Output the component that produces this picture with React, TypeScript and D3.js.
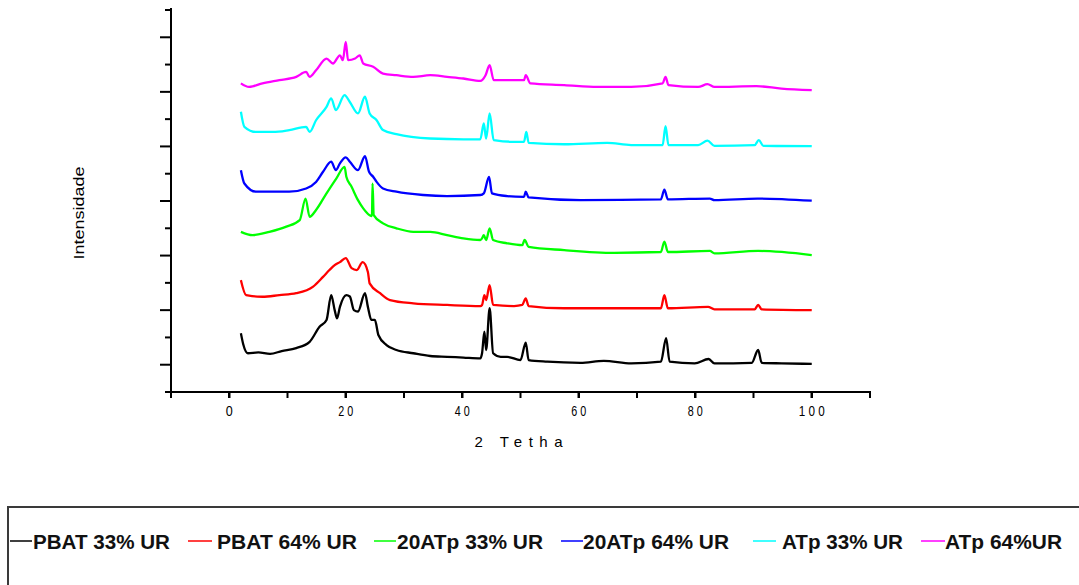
import React from "react";
import * as d3 from "d3";

// XRD patterns: [2θ (deg), intensity (a.u., stacked offsets)]
const pbat33: [number, number][] = [
  [2.0, 2.15], [2.4, 1.75], [3.2, 1.42], [5, 1.45], [7, 1.4], [9, 1.5], [11.5, 1.61], [13.8, 1.84],
  [15.5, 2.39], [16.7, 2.64], [17.5, 3.55], [18.1, 3.0], [18.5, 2.7], [19.0, 3.12], [20.1, 3.55],
  [20.7, 3.5], [21.4, 3.0], [22.1, 2.95], [23.3, 3.62], [23.8, 3.12], [24.4, 2.64], [25.0, 2.64],
  [25.6, 2.09], [27.0, 1.72], [28.7, 1.54], [31.6, 1.42], [34.5, 1.32], [37.4, 1.29], [40.2, 1.26],
  [43.1, 1.23], [43.4, 1.42], [43.8, 2.21], [44.1, 1.54], [44.7, 3.07], [45.3, 1.42], [46.6, 1.29],
  [47.7, 1.29], [50.0, 1.17], [50.9, 1.81], [51.4, 1.17], [54.6, 1.11], [60.3, 1.07], [64.3, 1.14],
  [69.0, 1.05], [74.1, 1.11], [75.0, 1.97], [75.6, 1.11], [79.9, 1.05], [82.3, 1.21], [83.3, 1.05],
  [89.7, 1.07], [90.8, 1.54], [91.4, 1.07], [94.8, 1.05], [100.0, 1.03],
];

const pbat64: [number, number][] = [
  [2.0, 4.1], [2.9, 3.55], [5.7, 3.49], [8.6, 3.55], [11.5, 3.62], [14.4, 3.86], [16.1, 4.22],
  [17.2, 4.47], [18.1, 4.65], [19.0, 4.76], [20.0, 4.91], [21.0, 4.54], [21.9, 4.47], [22.9, 4.76],
  [23.8, 4.4], [24.1, 3.98], [25.9, 3.62], [27.6, 3.37], [31.6, 3.25], [37.4, 3.19], [43.1, 3.15],
  [43.4, 3.19], [43.8, 3.55], [44.1, 3.37], [44.7, 3.92], [45.3, 3.19], [48.9, 3.15], [50.3, 3.19],
  [50.9, 3.43], [51.4, 3.15], [57.5, 3.07], [66.1, 3.07], [74.1, 3.07], [74.7, 3.55], [75.3, 3.07],
  [82.2, 3.12], [83.3, 3.03], [90.2, 3.03], [90.8, 3.19], [91.4, 3.03], [100.0, 3.0],
];

const atp20_33: [number, number][] = [
  [2.0, 5.87], [4.0, 5.75], [6.9, 5.87], [9.8, 6.06], [12.1, 6.3], [13.1, 7.09], [13.8, 6.42],
  [14.9, 6.67], [16.7, 7.28], [18.4, 7.83], [19.8, 8.25], [20.1, 7.89], [21.0, 7.52], [22.1, 7.03],
  [23.0, 6.73], [24.1, 6.48], [24.5, 6.45], [24.6, 7.64], [24.8, 6.48], [26.4, 6.18], [28.7, 6.0],
  [31.6, 5.87], [34.5, 5.87], [37.4, 5.75], [40.2, 5.63], [43.1, 5.57], [43.4, 5.63], [43.7, 5.75],
  [44.1, 5.57], [44.7, 6.0], [45.3, 5.57], [47.7, 5.45], [50.3, 5.38], [50.7, 5.57], [51.4, 5.32],
  [57.5, 5.2], [66.1, 5.1], [74.1, 5.13], [74.7, 5.51], [75.3, 5.13], [82.5, 5.17], [83.3, 5.08],
  [90.8, 5.17], [100.0, 5.02],
];

const atp20_64: [number, number][] = [
  [2.0, 8.13], [2.6, 7.64], [4.6, 7.34], [7.5, 7.34], [10.3, 7.34], [13.2, 7.46], [14.9, 7.7],
  [16.1, 8.07], [17.5, 8.44], [18.3, 8.13], [19.0, 8.38], [20.0, 8.6], [20.7, 8.44], [22.1, 8.13],
  [23.3, 8.64], [24.0, 8.07], [24.7, 7.89], [25.3, 7.7], [26.4, 7.46], [28.7, 7.34], [33.3, 7.22],
  [37.4, 7.18], [43.1, 7.22], [43.7, 7.28], [44.6, 7.88], [45.1, 7.28], [47.7, 7.18], [50.6, 7.15],
  [50.9, 7.34], [51.4, 7.13], [60.3, 7.03], [74.1, 7.06], [74.7, 7.42], [75.3, 7.06], [82.5, 7.09],
  [83.3, 7.03], [90.7, 7.09], [100.0, 7.01],
];

const atp33: [number, number][] = [
  [2.0, 10.27], [2.6, 9.72], [4.6, 9.53], [7.5, 9.53], [10.3, 9.6], [13.2, 9.72], [13.8, 9.53],
  [14.9, 9.96], [16.7, 10.45], [17.5, 10.76], [18.3, 10.33], [19.8, 10.88], [20.7, 10.63],
  [22.1, 10.21], [23.3, 10.82], [24.1, 10.21], [25.3, 9.96], [26.4, 9.6], [28.7, 9.45], [34.5, 9.29],
  [40.2, 9.26], [43.1, 9.26], [43.7, 9.84], [44.1, 9.29], [44.7, 10.21], [45.4, 9.23], [48.9, 9.17],
  [50.6, 9.17], [51.0, 9.53], [51.4, 9.13], [57.5, 9.08], [64.9, 9.13], [69.0, 9.05], [74.4, 9.05],
  [74.9, 9.74], [75.4, 9.05], [80.5, 9.05], [82.1, 9.21], [83.3, 9.02], [90.2, 9.05], [90.9, 9.23],
  [91.7, 9.02], [100.0, 9.01],
];

const atp64: [number, number][] = [
  [2.0, 11.31], [3.4, 11.18], [5.7, 11.31], [8.6, 11.43], [11.5, 11.55], [13.2, 11.73], [13.8, 11.55],
  [14.9, 11.79], [16.7, 12.22], [17.8, 12.04], [19.0, 12.34], [19.5, 12.16], [20.0, 12.83],
  [20.4, 12.16], [21.6, 12.22], [22.4, 12.34], [23.0, 12.04], [24.7, 11.92], [26.4, 11.67],
  [28.7, 11.61], [31.6, 11.55], [34.5, 11.61], [37.4, 11.55], [40.2, 11.49], [43.1, 11.4],
  [44.0, 11.61], [44.7, 11.98], [45.4, 11.43], [48.9, 11.43], [50.6, 11.43], [50.9, 11.61],
  [51.7, 11.31], [57.5, 11.25], [63.2, 11.18], [69.0, 11.18], [74.4, 11.31], [74.9, 11.55],
  [75.4, 11.25], [80.5, 11.18], [82.1, 11.28], [83.3, 11.18], [90.5, 11.21], [94.8, 11.12],
  [100.0, 11.06],
];

const seriesNames = ["PBAT 33% UR", "PBAT 64% UR", "20ATp 33% UR", "20ATp 64% UR", "ATp 33% UR", "ATp 64%UR"];
const seriesColors = ["#000000", "#ff0000", "#00ff00", "#0000ff", "#00ffff", "#ff00ff"];
const seriesData = [pbat33, pbat64, atp20_33, atp20_64, atp33, atp64];

const xTickValues = d3.range(-10, 111, 10);
const xLabelValues = [0, 20, 40, 60, 80, 100];
const yTickValues = d3.range(0, 15, 1);

const W = 1079;
const H = 585;
const x = d3.scaleLinear().domain([-10, 110]).range([171, 870]);
const y = d3.scaleLinear().domain([0, 14]).range([392, 10]);

// legend layout: line start/end and text start/width
const legendLayout = [
  { l1: 10, l2: 32, tx: 33, tw: 137 },
  { l1: 188, l2: 212, tx: 217, tw: 140 },
  { l1: 374, l2: 396, tx: 397, tw: 146 },
  { l1: 561, l2: 583, tx: 583, tw: 146 },
  { l1: 753, l2: 776, tx: 782, tw: 121 },
  { l1: 921, l2: 945, tx: 945, tw: 117 },
];

export default function App() {
  const line = d3
    .line<[number, number]>()
    .x((d) => x(d[0]))
    .y((d) => y(d[1]))
    .curve(d3.curveMonotoneX);

  const font = "'Liberation Sans', Arial, sans-serif";
  const labelWidth = (s: string) => (s.length === 1 ? 7 : s.length === 2 ? 15 : 26);

  return (
    <svg
      width={W}
      height={H}
      viewBox={`0 0 ${W} ${H}`}
      style={{ position: "absolute", left: 0, top: 0, background: "#fff" }}
    >
      <defs>
        <filter id="soft" x="-5%" y="-5%" width="110%" height="110%">
          <feGaussianBlur stdDeviation="0.45" />
        </filter>
      </defs>

      {/* curves */}
      <g fill="none" strokeWidth={2.3} strokeLinejoin="round" filter="url(#soft)">
        {seriesData.map((d, i) => (
          <path key={i} d={line(d) ?? ""} stroke={seriesColors[i]} />
        ))}
      </g>

      {/* y axis */}
      <line x1={x(-10)} x2={x(-10)} y1={y(14) - 2} y2={y(0) + 1} stroke="#000" strokeWidth={2} />
      {yTickValues.map((v) => (
        <line
          key={v}
          x1={x(-10) - (v % 2 === 1 ? 11 : 6)}
          x2={x(-10)}
          y1={y(v)}
          y2={y(v)}
          stroke="#000"
          strokeWidth={2}
        />
      ))}
      <text
        transform={`translate(84, ${(y(0) + y(14)) / 2 + 12}) rotate(-90)`}
        textAnchor="middle"
        fontFamily={font}
        fontSize={15}
        textLength={93}
        lengthAdjust="spacingAndGlyphs"
        fill="#000"
      >
        Intensidade
      </text>

      {/* x axis */}
      <line x1={x(-10) - 4} x2={x(110) + 1} y1={y(0)} y2={y(0)} stroke="#000" strokeWidth={2} />
      {xTickValues.map((v) => (
        <line
          key={v}
          x1={x(v)}
          x2={x(v)}
          y1={y(0)}
          y2={y(0) + 6}
          stroke="#000"
          strokeWidth={xLabelValues.includes(v) ? 2.5 : 2}
        />
      ))}
      {xLabelValues.map((v) => {
        const s = String(v);
        return (
          <text
            key={v}
            x={x(v)}
            y={416}
            textAnchor="middle"
            fontFamily={font}
            fontSize={14.5}
            textLength={labelWidth(s)}
            lengthAdjust="spacingAndGlyphs"
            fill="#000"
          >
            {s.split("").join(" ")}
          </text>
        );
      })}
      <text
        x={(x(-10) + x(110)) / 2 - 2}
        y={447}
        textAnchor="middle"
        fontFamily={font}
        fontSize={15}
        textLength={88}
        lengthAdjust="spacing"
        fill="#000"
      >
        2 Tetha
      </text>

      {/* legend */}
      <rect x={8} y={507} width={1100} height={120} fill="none" stroke="#3a3a3a" strokeWidth={2} />
      {seriesNames.map((name, i) => {
        const L = legendLayout[i];
        return (
          <g key={name}>
            <line x1={L.l1} x2={L.l2} y1={541} y2={541} stroke={seriesColors[i]} strokeWidth={1.5} />
            <text
              x={L.tx}
              y={549}
              fontFamily={font}
              fontWeight="bold"
              fontSize={20}
              textLength={L.tw}
              lengthAdjust="spacingAndGlyphs"
              fill="#111"
            >
              {name}
            </text>
          </g>
        );
      })}
    </svg>
  );
}
